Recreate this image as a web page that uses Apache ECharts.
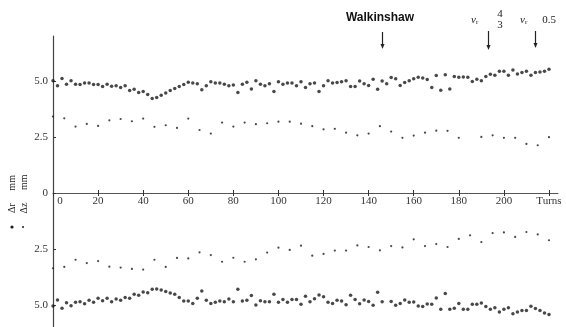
<!DOCTYPE html>
<html>
<head>
<meta charset="utf-8">
<script src="https://cdn.jsdelivr.net/npm/echarts@6/dist/echarts.min.js"></script>
<style>
  html, body { margin: 0; background: #fff; }
  #chart { width: 566px; height: 327px; }
</style>
</head>
<body>
<div id="chart"></div>
<script>
// turns sampled: dr every 2 turns, dz every 5 turns (0..220)
const turnsR = [];
for (let t = 0; t <= 220; t += 2) turnsR.push(t);
const turnsZ = [];
for (let t = 0; t <= 220; t += 5) turnsZ.push(t);

// upper half (plotted above 0)
const upperDr = [
  5.01, 4.78, 5.10, 4.85, 5.01, 4.85, 4.84, 4.91, 4.91, 4.84,
  4.84, 4.75, 4.85, 4.76, 4.78, 4.70, 4.78, 4.57, 4.63, 4.48,
  4.52, 4.39, 4.21, 4.26, 4.36, 4.46, 4.57, 4.66, 4.75, 4.84,
  4.94, 4.90, 4.87, 4.60, 4.78, 4.96, 4.90, 4.90, 4.85, 4.78,
  4.82, 4.48, 4.85, 4.94, 4.64, 5.00, 4.85, 4.78, 4.87, 4.52,
  4.96, 4.85, 4.90, 4.90, 4.78, 4.96, 4.70, 4.87, 4.90, 4.52,
  4.78, 5.00, 4.90, 4.93, 4.96, 5.01, 4.75, 4.75, 4.99, 4.87,
  4.79, 5.07, 4.63, 4.99, 4.87, 5.15, 5.09, 4.79, 4.93, 5.01,
  5.09, 5.16, 5.13, 5.06, 4.70, 5.24, 4.58, 5.27, 4.64, 5.19,
  5.16, 5.17, 5.16, 4.97, 5.07, 5.01, 5.19, 5.30, 5.25, 5.43,
  5.43, 5.25, 5.48, 5.31, 5.37, 5.43, 5.25, 5.37, 5.40, 5.43,
  5.52
];
const upperDz = [
  3.41, 3.33, 2.96, 3.08, 2.99, 3.24, 3.30, 3.20, 3.32, 2.95,
  3.02, 2.90, 3.32, 2.81, 2.65, 3.14, 2.96, 3.14, 3.07, 3.11,
  3.18, 3.18, 3.09, 2.98, 2.84, 2.86, 2.69, 2.57, 2.65, 2.98,
  2.74, 2.46, 2.56, 2.69, 2.78, 2.77, 2.46, null, 2.50, 2.57,
  2.46, 2.46, 2.19, 2.13, 2.49
];

// lower half (magnitudes, plotted below 0)
const lowerDr = [
  5.04, 4.78, 5.15, 4.90, 5.03, 4.88, 4.85, 4.94, 4.79, 4.88,
  4.70, 4.81, 4.70, 4.85, 4.73, 4.79, 4.67, 4.70, 4.52, 4.57,
  4.42, 4.45, 4.30, 4.29, 4.33, 4.40, 4.46, 4.52, 4.67, 4.82,
  4.82, 4.93, 4.70, 4.38, 4.79, 4.93, 4.88, 4.82, 4.85, 4.73,
  4.85, 4.30, 4.82, 4.79, 4.58, 5.00, 4.81, 4.85, 4.85, 4.52,
  4.88, 4.76, 4.88, 4.75, 4.75, 4.97, 4.61, 4.85, 4.72, 4.55,
  4.63, 4.88, 4.93, 4.79, 4.82, 4.99, 4.57, 4.75, 4.94, 4.78,
  4.84, 5.01, 4.43, 4.85, null, 4.84, 5.01, 4.93, 4.78, 4.88,
  4.87, 5.04, 5.07, 4.96, 4.97, 4.69, 5.19, 4.49, 5.19, 5.15,
  4.93, 5.19, 5.19, 4.97, 4.97, 4.91, 5.07, 5.19, 5.12, 5.31,
  5.19, 5.12, 5.39, 5.31, 5.25, 5.25, 5.06, 5.16, 5.25, 5.36,
  5.42
];
const lowerDz = [
  3.36, 3.30, 2.98, 3.13, 3.04, 3.29, 3.33, 3.39, 3.42, 2.98,
  3.30, 2.90, 2.92, 2.65, 2.77, 3.07, 2.89, 3.07, 2.96, 2.66,
  2.44, 2.54, 2.35, 2.80, 2.72, 2.57, 2.57, 2.34, 2.41, 2.56,
  2.37, 2.43, 2.07, 2.37, 2.28, 2.41, 2.05, 1.89, 2.19, 1.79,
  1.76, 1.96, 1.74, 1.85, 2.11
];

const xTicks = [0, 20, 40, 60, 80, 100, 120, 140, 160, 180, 200, 220];
const yTicksUp = [0, 2.5, 5];
const yTicksDown = [-5, -2.5];

// arrows marking resonances (turn number)
const marks = [
  { turn: 146, top: 32, bottom: 49 },
  { turn: 193, top: 31, bottom: 50 },
  { turn: 214, top: 31, bottom: 48 }
];

function pairs(turns, vals, sign) {
  const out = [];
  vals.forEach(function (v, i) {
    if (v != null) out.push([turns[i], sign * v]);
  });
  return out;
}

const serif = "'Liberation Serif', 'DejaVu Serif', serif";
const ink = '#1a1a1a';

const yLabel = {
  margin: 5,
  fontFamily: serif,
  fontSize: 11,
  color: '#333',
  formatter: function (v) {
    return v === 0 ? '0' : Math.abs(v).toFixed(1);
  }
};

const chart = echarts.init(document.getElementById('chart'));
const option = {
  animation: false,
  backgroundColor: '#fff',
  grid: [
    { left: 53, right: 8, top: 36, height: 157, outerBoundsMode: 'none' },
    { left: 53, right: 8, top: 193, height: 134.4, outerBoundsMode: 'none' }
  ],
  xAxis: [
    {
      type: 'value', gridIndex: 0, position: 'bottom',
      min: 0, max: 224,
      axisLine: { onZero: false, lineStyle: { color: '#555', width: 1 } },
      axisTick: { show: true, length: 3, customValues: xTicks, lineStyle: { color: '#333' } },
      axisLabel: {
        customValues: xTicks,
        margin: 3,
        fontFamily: serif,
        fontSize: 11,
        color: '#333',
        formatter: function (v) {
          if (v === 0) return '{z|0}';
          if (v === 220) return 'Turns';
          return String(v);
        },
        rich: { z: { padding: [0, 0, 0, 14], fontFamily: serif, fontSize: 11, color: '#333' } }
      },
      splitLine: { show: false }
    },
    {
      // only supplies the upward half of the crossing tick marks
      type: 'value', gridIndex: 1, position: 'top', min: 0, max: 224,
      axisLine: { show: false, onZero: false },
      axisTick: { show: true, length: 3, customValues: xTicks.slice(1), lineStyle: { color: '#333' } },
      axisLabel: { show: false },
      splitLine: { show: false }
    }
  ],
  yAxis: [
    {
      type: 'value', gridIndex: 0, min: 0, max: 7,
      axisLine: { show: true, onZero: false, lineStyle: { color: '#444', width: 1.2 } },
      axisTick: { show: true, inside: true, length: 3, customValues: yTicksUp, lineStyle: { color: '#333' } },
      axisLabel: Object.assign({ customValues: yTicksUp }, yLabel),
      splitLine: { show: false }
    },
    {
      type: 'value', gridIndex: 1, min: -6, max: 0,
      axisLine: { show: true, onZero: false, lineStyle: { color: '#444', width: 1.2 } },
      axisTick: { show: true, inside: true, length: 3, customValues: yTicksDown, lineStyle: { color: '#333' } },
      axisLabel: Object.assign({ customValues: yTicksDown }, yLabel),
      splitLine: { show: false }
    }
  ],
  series: [
    { name: 'Δr upper', type: 'scatter', symbol: 'circle', symbolSize: 3.5, silent: true,
      itemStyle: { color: ink }, data: pairs(turnsR, upperDr, 1) },
    { name: 'Δz upper', type: 'scatter', symbol: 'circle', symbolSize: 2.2, silent: true,
      itemStyle: { color: ink }, data: pairs(turnsZ, upperDz, 1) },
    { name: 'Δr lower', type: 'scatter', symbol: 'circle', symbolSize: 3.5, silent: true,
      xAxisIndex: 1, yAxisIndex: 1,
      itemStyle: { color: ink }, data: pairs(turnsR, lowerDr, -1) },
    { name: 'Δz lower', type: 'scatter', symbol: 'circle', symbolSize: 2.2, silent: true,
      xAxisIndex: 1, yAxisIndex: 1,
      itemStyle: { color: ink }, data: pairs(turnsZ, lowerDz, -1) }
  ]
};
chart.setOption(option);

// annotations: arrows placed through the x scale
const graphics = [];
marks.forEach(function (m) {
  const x = Math.round(chart.convertToPixel({ xAxisIndex: 0 }, m.turn)) + 0.5;
  graphics.push({
    type: 'line', silent: true,
    shape: { x1: x, y1: m.top, x2: x, y2: m.bottom - 4 },
    style: { stroke: '#222', lineWidth: 1.2 }
  });
  graphics.push({
    type: 'polygon', silent: true,
    shape: { points: [[x - 2, m.bottom - 5], [x + 2, m.bottom - 5], [x, m.bottom]] },
    style: { fill: '#222' }
  });
});

graphics.push(
  { type: 'text', silent: true, x: 380, y: 18,
    style: { text: 'Walkinshaw', font: "bold 12px 'Liberation Sans', Arial, sans-serif",
      fill: '#111', align: 'center', verticalAlign: 'middle' } },
  { type: 'text', silent: true, x: 471, y: 20,
    style: { text: '{v|ν}{s|r}', align: 'left', verticalAlign: 'middle',
      rich: {
        v: { font: 'italic 11px ' + serif, fill: '#222' },
        s: { font: '7px ' + serif, fill: '#222', padding: [5, 0, 0, 0] }
      } } },
  { type: 'text', silent: true, x: 500, y: 14,
    style: { text: '4', font: '11px ' + serif, fill: '#222', align: 'center', verticalAlign: 'middle' } },
  { type: 'text', silent: true, x: 500, y: 25,
    style: { text: '3', font: '11px ' + serif, fill: '#222', align: 'center', verticalAlign: 'middle' } },
  { type: 'text', silent: true, x: 520, y: 20,
    style: { text: '{v|ν}{s|r}', align: 'left', verticalAlign: 'middle',
      rich: {
        v: { font: 'italic 11px ' + serif, fill: '#222' },
        s: { font: '7px ' + serif, fill: '#222', padding: [5, 0, 0, 0] }
      } } },
  { type: 'text', silent: true, x: 549, y: 20,
    style: { text: '0.5', font: '11px ' + serif, fill: '#222', align: 'center', verticalAlign: 'middle' } },
  // rotated axis titles and their symbol key
  { type: 'text', silent: true, x: 12, y: 194, rotation: Math.PI / 2,
    style: { text: 'Δr     mm', font: '10px ' + serif, fill: '#222', align: 'center', verticalAlign: 'middle' } },
  { type: 'text', silent: true, x: 24, y: 194, rotation: Math.PI / 2,
    style: { text: 'Δz     mm', font: '10px ' + serif, fill: '#222', align: 'center', verticalAlign: 'middle' } },
  { type: 'circle', silent: true, shape: { cx: 12, cy: 227, r: 1.6 }, style: { fill: ink } },
  { type: 'circle', silent: true, shape: { cx: 23, cy: 227, r: 1 }, style: { fill: ink } }
);

chart.setOption({ graphic: graphics });
</script>
</body>
</html>
